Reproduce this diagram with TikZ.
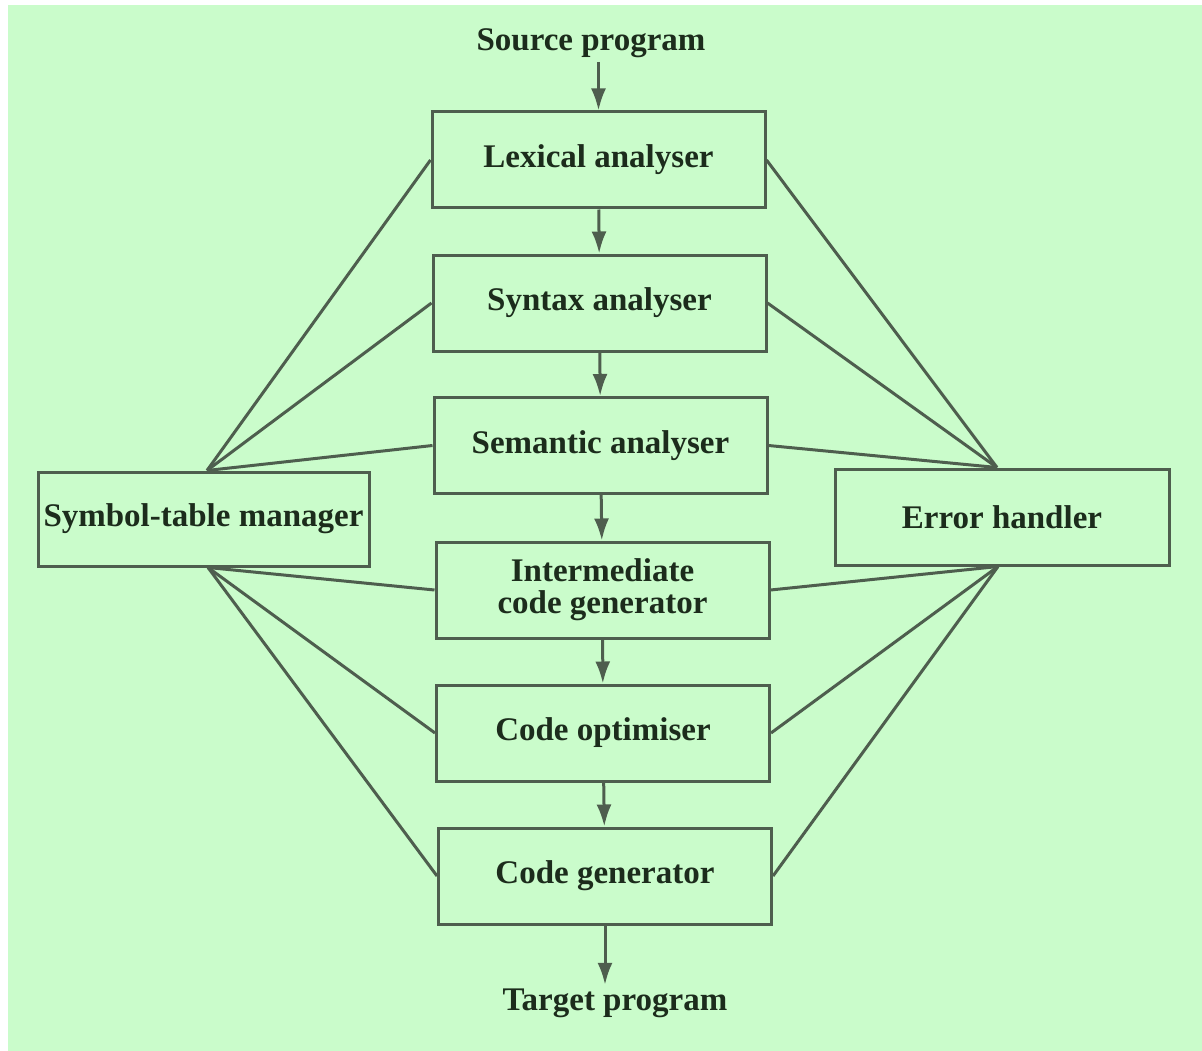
\documentclass[tikz,border=0pt]{standalone}
\usepackage{fontspec}
\setmainfont{Liberation Serif}
\usetikzlibrary{arrows.meta,calc}
\definecolor{bg}{HTML}{CAFCCB}
\definecolor{ln}{HTML}{4E5E4E}
\definecolor{tx}{HTML}{1C2C1C}
\begin{document}
\begin{tikzpicture}[x=1pt,y=-1pt,
  box/.style={draw=ln,line width=3pt,fill=bg,minimum width=333pt,minimum height=96pt,inner sep=0pt,
    font=\fontsize{33}{32}\selectfont\bfseries,text=tx,align=center},
  lbl/.style={font=\fontsize{33}{33}\selectfont\bfseries,text=tx},
  flow/.style={draw=ln,line width=3pt,-{Latex[length=22pt,width=15pt]}},
  link/.style={draw=ln,line width=3pt}]
\useasboundingbox (0,0) rectangle (1202,1051);
\fill[white] (-5,-5) rectangle (1215,1065);
\fill[bg] (8,5) rectangle (1215,1065);

\node[box] (lex) at (598.5,160) {Lexical analyser};
\node[box] (syn) at (599.5,303) {Syntax analyser};
\node[box] (sem) at (600.5,445.5) {Semantic analyser};
\node[box] (icg) at (602.5,590) {Intermediate\\code generator};
\node[box] (opt) at (603,733) {Code optimiser};
\node[box] (gen) at (605,876) {Code generator};
\node[box,minimum width=331pt,minimum height=94pt] (sym) at (203.5,519) {Symbol-table manager};
\node[box,minimum width=334pt] (err) at (1002,517) {Error handler};
\node[lbl,anchor=base] (src) at (591,51) {Source program};
\node[lbl,anchor=base] (tgt) at (615,1010) {Target program};

\draw[flow] (lex.north |- src.south) -- (lex.north);
\draw[flow] (lex) -- (syn);
\draw[flow] (syn) -- (sem);
\draw[flow] (sem) -- (icg);
\draw[flow] (icg) -- (opt);
\draw[flow] (opt) -- (gen);
\draw[flow] (gen.south) -- (gen.south |- tgt.north);

\coordinate (symt) at ($(sym.north)+(3.5,0)$);
\coordinate (symb) at ($(sym.south)+(4.5,0)$);
\coordinate (errt) at ($(err.north)+(-5,0)$);
\coordinate (errb) at ($(err.south)+(-4,0)$);

\foreach \n in {lex,syn,sem} {
  \draw[link] (symt) -- (\n.west);
  \draw[link] (errt) -- (\n.east);
}
\foreach \n in {icg,opt,gen} {
  \draw[link] (symb) -- (\n.west);
  \draw[link] (errb) -- (\n.east);
}
\end{tikzpicture}
\end{document}
